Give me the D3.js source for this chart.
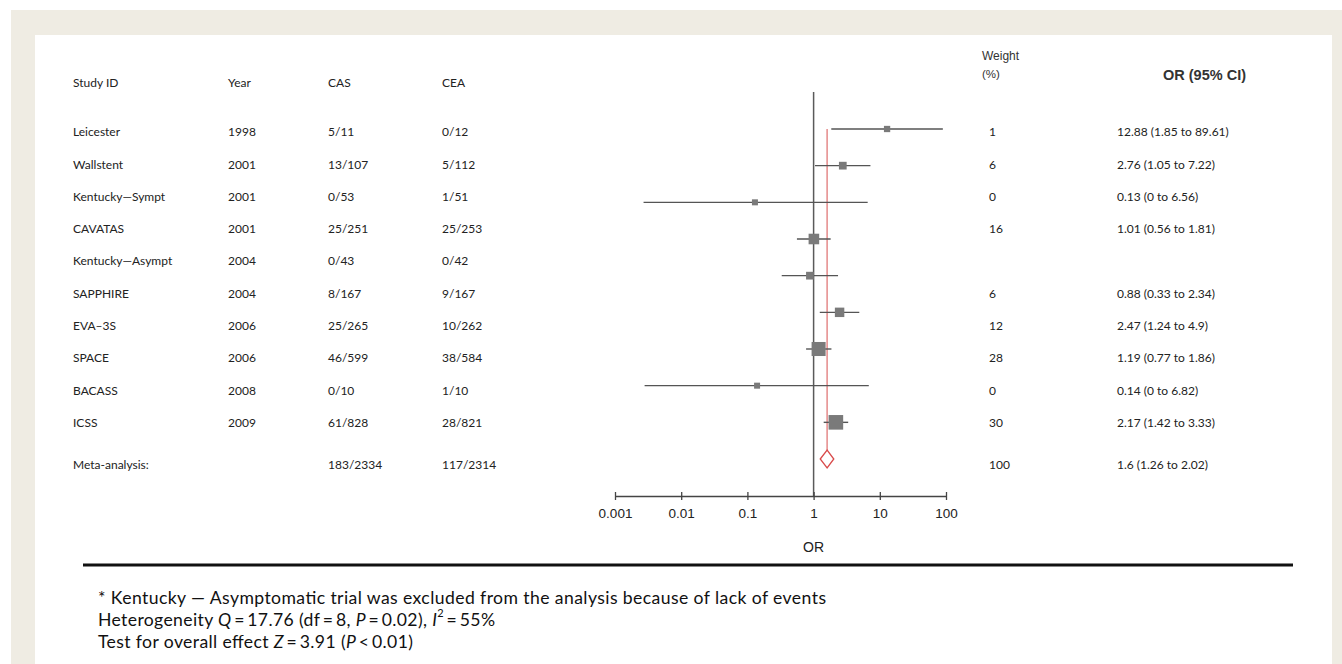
<!DOCTYPE html>
<meta charset="utf-8">
<body>
</body>
<style>
	body { margin: 0; background: #fff; }
	svg { display: block; }
	.tbl { font-family: Lato, "Open Sans", sans-serif; font-size: 12px; fill: #222; }
	.hdr { font-family: "Liberation Sans", Arial, sans-serif; fill: #333; }
	.note { font-family: Lato, "Open Sans", sans-serif; font-size: 17.6px; fill: #111; }
</style>
<script src="https://cdn.jsdelivr.net/npm/d3@7"></script>
<script>

var width = 1342,
	height = 664;

// Table columns, one entry per row (last row is the pooled estimate)
const studies = ["Leicester", "Wallstent", "Kentucky\u2014Sympt", "CAVATAS", "Kentucky\u2014Asympt",
	"SAPPHIRE", "EVA\u20133S", "SPACE", "BACASS", "ICSS", "Meta-analysis:"];
const years = ["1998", "2001", "2001", "2001", "2004", "2004", "2006", "2006", "2008", "2009", ""];
const casEvents = ["5/11", "13/107", "0/53", "25/251", "0/43", "8/167", "25/265", "46/599", "0/10", "61/828", "183/2334"];
const ceaEvents = ["0/12", "5/112", "1/51", "25/253", "0/42", "9/167", "10/262", "38/584", "1/10", "28/821", "117/2314"];
const weights = ["1", "6", "0", "16", "", "6", "12", "28", "0", "30", "100"];
const orLabels = ["12.88 (1.85 to 89.61)", "2.76 (1.05 to 7.22)", "0.13 (0 to 6.56)", "1.01 (0.56 to 1.81)", "",
	"0.88 (0.33 to 2.34)", "2.47 (1.24 to 4.9)", "1.19 (0.77 to 1.86)", "0.14 (0 to 6.82)", "2.17 (1.42 to 3.33)",
	"1.6 (1.26 to 2.02)"];

// Plotted studies (Kentucky-Asympt excluded), in the order they are drawn
const plotOR = [12.88, 2.76, 0.13, 1.01, 0.88, 2.47, 1.19, 0.14, 2.17];
const plotLo = [1.85, 1.05, 0.0027, 0.56, 0.33, 1.24, 0.77, 0.0028, 1.42];
const plotHi = [89.61, 7.22, 6.56, 1.81, 2.34, 4.9, 1.86, 6.82, 3.33];
const plotWeight = [1, 6, 0, 16, 6, 12, 28, 0, 30];

// Pooled estimate
const pooled = { or: 1.6, lo: 1.26, hi: 2.02 };

const tickValues = [0.001, 0.01, 0.1, 1, 10, 100];
const tickLabels = ["0.001", "0.01", "0.1", "1", "10", "100"];

/*
 * Build the page.
 */
(function run() {
	const svg = d3.select("body").append("svg")
		.attr("width", width)
		.attr("height", height);

	// Frame
	svg.append("rect").attr("x", 11).attr("y", 10)
		.attr("width", width - 11).attr("height", height - 10).attr("fill", "#efece3");
	svg.append("rect").attr("x", 35).attr("y", 35)
		.attr("width", 1297).attr("height", height - 35).attr("fill", "#fff");

	const x = d3.scaleLog().domain([0.001, 100]).range([615, 946]);
	// rows of the plotted marks and rows of the text table are spaced differently
	const yMark = d3.scaleLinear().domain([0, 9]).range([129, 459]);
	const yText = d3.scaleLinear().domain([0, 9]).range([131.7, 422.5]);
	const size = d3.scaleLinear().domain([0, 30]).range([6, 14.6]);

	drawTable(svg, yText);
	drawPlot(svg, x, yMark, size);
	drawNotes(svg);
})();

/*
 * Text columns of the table.
 */
function drawTable(svg, y) {
	const headY = 82;
	const rowY = i => i < 10 ? y(i) : y(9) + 42;
	const cols = [
		{ x: 73, head: "Study ID", values: studies },
		{ x: 228, head: "Year", values: years },
		{ x: 328, head: "CAS", values: casEvents },
		{ x: 442, head: "CEA", values: ceaEvents },
		{ x: 989, head: null, values: weights },
		{ x: 1117, head: null, values: orLabels }
	];

	cols.forEach(function (col) {
		if (col.head) {
			svg.append("text").attr("class", "tbl")
				.attr("x", col.x).attr("y", headY)
				.attr("dominant-baseline", "central")
				.text(col.head);
		}
		svg.append("g").selectAll("text")
			.data(col.values)
			.enter().append("text")
			.attr("class", "tbl")
			.attr("x", col.x)
			.attr("y", (d, i) => rowY(i))
			.attr("dominant-baseline", "central")
			.text(d => d);
	});

	svg.append("text").attr("class", "hdr")
		.attr("x", 982).attr("y", 56).attr("font-size", 12)
		.attr("dominant-baseline", "central").text("Weight");
	svg.append("text").attr("class", "hdr")
		.attr("x", 982).attr("y", 74).attr("font-size", 11.5)
		.attr("dominant-baseline", "central").text("(%)");
	svg.append("text").attr("class", "hdr")
		.attr("x", 1163).attr("y", 75).attr("font-size", 14.5)
		.attr("font-weight", "bold").attr("fill", "#111")
		.attr("dominant-baseline", "central").text("OR (95% CI)");
}

/*
 * Forest plot: reference line, CIs, squares, pooled diamond and axis.
 */
function drawPlot(svg, x, y, size) {
	const axisY = 496;

	// Line of no effect
	svg.append("line")
		.attr("x1", x(1)).attr("x2", x(1))
		.attr("y1", 92).attr("y2", axisY)
		.attr("stroke", "#5a5a5a").attr("stroke-width", 1.5);

	// Pooled estimate line
	svg.append("line")
		.attr("x1", x(pooled.or)).attr("x2", x(pooled.or))
		.attr("y1", y(0)).attr("y2", y(9) - 9)
		.attr("stroke", "#e58a8a").attr("stroke-width", 1.5);

	const rows = plotOR.map((d, i) => ({ or: d, lo: plotLo[i], hi: plotHi[i], w: plotWeight[i], i: i }));

	svg.append("g").selectAll("line")
		.data(rows)
		.enter().append("line")
		.attr("x1", d => x(d.lo))
		.attr("x2", d => x(d.hi))
		.attr("y1", d => y(d.i))
		.attr("y2", d => y(d.i))
		.attr("stroke", "#555")
		.attr("stroke-width", 1.4);

	svg.append("g").selectAll("rect")
		.data(rows)
		.enter().append("rect")
		.attr("x", d => x(d.or) - size(d.w) / 2)
		.attr("y", d => y(d.i) - size(d.w) / 2)
		.attr("width", d => size(d.w))
		.attr("height", d => size(d.w))
		.attr("fill", "#7a7a7a");

	// Diamond
	const dy = y(9);
	svg.append("path")
		.attr("d", "M" + x(pooled.lo) + "," + dy +
			"L" + x(pooled.or) + "," + (dy - 9) +
			"L" + x(pooled.hi) + "," + dy +
			"L" + x(pooled.or) + "," + (dy + 9) + "Z")
		.attr("fill", "#fff")
		.attr("stroke", "#d94a4a")
		.attr("stroke-width", 1.3);

	// Axis
	const axis = d3.axisBottom(x)
		.tickValues(tickValues)
		.tickSizeInner(4)
		.tickSizeOuter(0)
		.tickFormat((d, i) => tickLabels[i]);
	const g = svg.append("g")
		.attr("transform", "translate(0," + axisY + ")")
		.call(axis);
	g.select(".domain").attr("stroke", "#444").attr("stroke-width", 1.3);
	g.selectAll(".tick line").attr("y1", -4).attr("y2", 4)
		.attr("stroke", "#444").attr("stroke-width", 1.3);
	g.selectAll(".tick text")
		.attr("y", 17).attr("dy", null)
		.attr("dominant-baseline", "central")
		.attr("font-family", "'Liberation Sans', Arial, sans-serif")
		.attr("font-size", 13.5)
		.attr("fill", "#222");

	svg.append("text")
		.attr("x", x(1)).attr("y", 547)
		.attr("text-anchor", "middle")
		.attr("dominant-baseline", "central")
		.attr("font-family", "'Liberation Sans', Arial, sans-serif")
		.attr("font-size", 14).attr("fill", "#222")
		.text("OR");
}

/*
 * Rule and footnotes under the plot.
 */
function drawNotes(svg) {
	svg.append("line")
		.attr("x1", 83).attr("x2", 1293)
		.attr("y1", 565).attr("y2", 565)
		.attr("stroke", "#111").attr("stroke-width", 3);

	const lines = [
		[["* Kentucky \u2014 Asymptomatic trial was excluded from the analysis because of lack of events", false]],
		[["Heterogeneity ", false], ["Q", true], ["\u2009=\u200917.76 (df\u2009=\u20098, ", false], ["P", true],
			["\u2009=\u20090.02), ", false], ["I", true], ["2", "sup"], ["\u2009=\u200955%", false]],
		[["Test for overall effect ", false], ["Z", true], ["\u2009=\u20093.91 (", false], ["P", true],
			["\u2009<\u20090.01)", false]]
	];
	const lineY = [597, 619, 641];
	const widths = [728, 397, 315];

	lines.forEach(function (parts, k) {
		const t = svg.append("text").attr("class", "note")
			.attr("x", 98).attr("y", lineY[k])
			.attr("dominant-baseline", "central")
			.attr("textLength", widths[k])
			.attr("lengthAdjust", "spacing");
		parts.forEach(function (p, j) {
			const s = t.append("tspan").text(p[0]);
			if (p[1] === true) s.attr("font-style", "italic");
			if (p[1] === "sup") s.attr("font-size", 11).attr("dy", -7);
			if (j > 0 && parts[j - 1][1] === "sup") s.attr("dy", 7);
		});
	});
}
</script>
